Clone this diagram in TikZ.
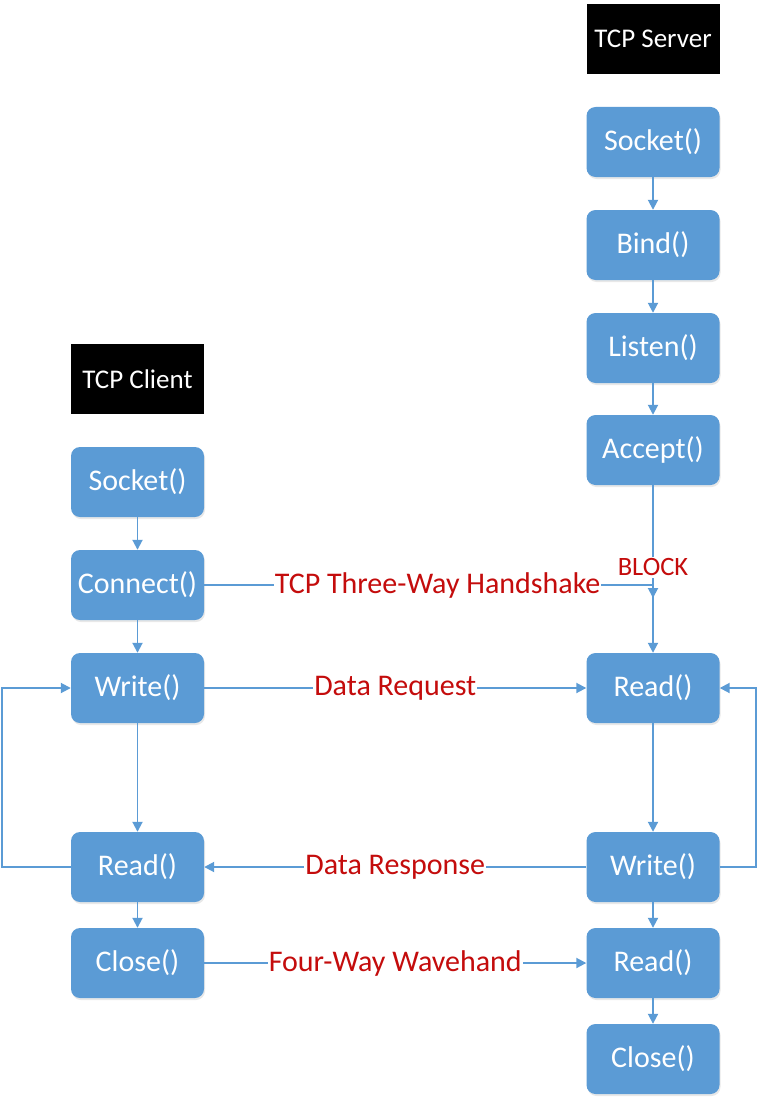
\documentclass[tikz,border=0pt]{standalone}
\usepackage{fontspec}
\setmainfont{Carlito}
\usetikzlibrary{arrows.meta,shadows}
\definecolor{boxblue}{RGB}{91,155,213}
\definecolor{lineblue}{RGB}{91,155,213}
\definecolor{lblred}{RGB}{196,12,12}
\tikzset{
  fbox/.style={rectangle, rounded corners=9pt, fill=boxblue, draw=none,
    minimum width=133pt, minimum height=70pt, inner sep=0pt,
    text=white, font=\fontsize{30}{33}\selectfont,
    drop shadow={opacity=0.18, shadow xshift=1pt, shadow yshift=-2pt}},
  hbox/.style={rectangle, fill=black, minimum width=133pt, minimum height=70pt,
    inner sep=0pt, text=white, font=\fontsize{27}{30}\selectfont},
  conn/.style={draw=lineblue, line width=1.9pt, -{Triangle[length=10pt,width=10pt]}},
  lbl/.style={fill=white, text=lblred, inner sep=1pt, font=\fontsize{30}{33}\selectfont},
  blk/.style={fill=white, text=lblred, inner sep=2pt, font=\fontsize{26.5}{30}\selectfont}
}
\begin{document}
\begin{tikzpicture}[x=1pt,y=-1pt]
\useasboundingbox (0,0) rectangle (758,1105);
% client
\node[hbox] (chead) at (137.5,379) {TCP Client};
\node[fbox] (csock) at (137.5,482) {Socket()};
\node[fbox] (cconn) at (137.5,585) {Connect()};
\node[fbox] (cwrite) at (137.5,688) {Write()};
\node[fbox] (cread) at (137.5,867) {Read()};
\node[fbox] (cclose) at (137.5,963) {Close()};
% server
\node[hbox] (shead) at (653,39) {TCP Server};
\node[fbox] (ssock) at (653,142) {Socket()};
\node[fbox] (sbind) at (653,245) {Bind()};
\node[fbox] (slisten) at (653,348) {Listen()};
\node[fbox] (saccept) at (653,450) {Accept()};
\node[fbox] (sread) at (653,688) {Read()};
\node[fbox] (swrite) at (653,867) {Write()};
\node[fbox] (sread2) at (653,963) {Read()};
\node[fbox] (sclose) at (653,1059) {Close()};
% loop corners and handshake end
\coordinate (lc1) at (2,867);
\coordinate (lc2) at (2,688);
\coordinate (rc1) at (756,867);
\coordinate (rc2) at (756,688);
\coordinate (hs) at (653,598);
% client flow
\draw[conn] (csock) -- (cconn);
\draw[conn] (cconn) -- (cwrite);
\draw[conn] (cwrite) -- (cread);
\draw[conn] (cread) -- (cclose);
\draw[conn] (cread.west) -- (lc1) -- (lc2) -- (cwrite.west);
% server flow
\draw[conn] (ssock) -- (sbind);
\draw[conn] (sbind) -- (slisten);
\draw[conn] (slisten) -- (saccept);
\draw[conn] (saccept) -- node[blk, pos=0.49] {BLOCK} (sread);
\draw[conn] (sread) -- (swrite);
\draw[conn] (swrite) -- (sread2);
\draw[conn] (sread2) -- (sclose);
\draw[conn] (swrite.east) -- (rc1) -- (rc2) -- (sread.east);
% cross messages
\draw[conn] (cconn.east) -| node[lbl, pos=0.26] {TCP Three-Way Handshake} (hs);
\draw[conn] (cwrite.east) -- node[lbl] {Data Request} (sread.west);
\draw[conn] (swrite.west) -- node[lbl] {Data Response} (cread.east);
\draw[conn] (cclose.east) -- node[lbl] {Four-Way Wavehand} (sread2.west);
\end{tikzpicture}
\end{document}
